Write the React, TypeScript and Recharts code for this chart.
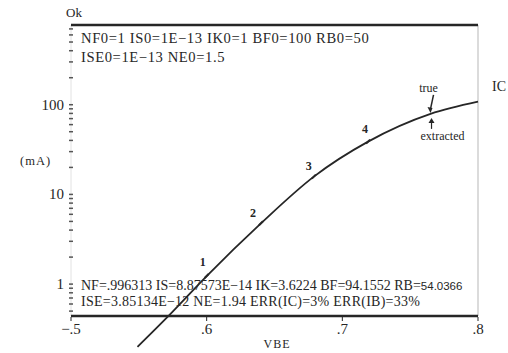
import React from 'react';
import { LineChart, Line, XAxis, YAxis, ReferenceLine, ReferenceDot, Customized } from 'recharts';

// IC vs VBE curve (mA, log scale)
const vbe = [0.549, 0.573, 0.6, 0.64, 0.679, 0.719, 0.765, 0.8];
const ic = [0.2, 0.46, 1.23, 4.76, 15.8, 38.8, 79, 108];

// numbered measurement points along the curve
const markedVbe = [0.6, 0.64, 0.679, 0.719];
const markedIc = [1.23, 4.76, 15.8, 38.8];
const markedNames = ['1', '2', '3', '4'];

// true / extracted comparison point
const compareVbe = 0.765;
const compareIc = 79;

const xTicks = [0.5, 0.6, 0.7, 0.8];
const xTickLabels = ['\u2212.5', '.6', '.7', '.8'];
const yMajorTicks = [1, 10, 100];
const yMinorTicks = [0.5, 0.6, 0.7, 0.8, 0.9, 2, 3, 4, 5, 6, 7, 8, 9, 20, 30, 40, 50, 60, 70, 80, 90, 200, 300, 400, 500, 600, 700];

const startParams = ['NF0=1 IS0=1E\u221213 IK0=1 BF0=100 RB0=50', 'ISE0=1E\u221213 NE0=1.5'];
const fitParams = ['NF=.996313 IS=8.87573E\u221214 IK=3.6224 BF=94.1552 RB=', 'ISE=3.85134E\u221212 NE=1.94 ERR(IC)=3% ERR(IB)=33%'];
const fitRb = '54.0366';

const Y_TOP = 774;
const Y_BOTTOM = 0.175;
const AXIS_FLOOR = 0.44;

const INK = '#262626';
const SERIF = '"Liberation Serif", "DejaVu Serif", serif';

const data = vbe.map((v, i) => ({ vbe: v, ic: ic[i] }));
const allYTicks = [...yMajorTicks, ...yMinorTicks].sort((a, b) => a - b);
const labelOffsets = [[-4, -10], [-8, -6], [-5, -7], [-3, -9]];

const YTick = (props: any) => {
  const { x, y, payload } = props;
  const major = yMajorTicks.includes(payload.value);
  if (payload.value < AXIS_FLOOR) return <g />;
  return (
    <g>
      <line x1={x - 2} x2={x + 2} y1={y} y2={y} stroke="#555" strokeWidth={1.5} />
      {major && (
        <text x={x - 7} y={y + 5} textAnchor="end" fontSize={15} fontFamily={SERIF} fill={INK}>
          {payload.value}
        </text>
      )}
    </g>
  );
};

const XTick = (props: any) => {
  const { x, y, index } = props;
  return (
    <g>
      <line x1={x} x2={x} y1={y - 35} y2={y - 31} stroke={INK} strokeWidth={1} />
      <text x={x} y={y - 18} textAnchor="middle" fontSize={15} fontFamily={SERIF} fill={INK}>
        {xTickLabels[index]}
      </text>
    </g>
  );
};

const PointMark = (i: number) => (props: any) => {
  const { cx, cy } = props;
  return (
    <g>
      <line x1={cx - 2} y1={cy + 2} x2={cx + 2} y2={cy - 2} stroke={INK} strokeWidth={2} />
      <text x={cx + labelOffsets[i][0]} y={cy + labelOffsets[i][1]} textAnchor="middle" fontSize={12}
        fontFamily={SERIF} fontWeight="bold" fill={INK}>
        {markedNames[i]}
      </text>
    </g>
  );
};

const CompareMark = (props: any) => {
  const { cx, cy } = props;
  return (
    <g fill={INK} stroke={INK} fontFamily={SERIF}>
      <text x={cx - 2} y={cy - 22} textAnchor="middle" fontSize={12} stroke="none">true</text>
      <line x1={cx + 3} y1={cy - 19} x2={cx} y2={cy - 5} strokeWidth={1.5} />
      <path d={`M${cx - 3},${cy - 7} L${cx},${cy - 1} L${cx + 2},${cy - 6} Z`} stroke="none" />
      <line x1={cx + 1} y1={cy + 15} x2={cx + 1} y2={cy + 7} strokeWidth={1.2} />
      <path d={`M${cx - 2},${cy + 9} L${cx + 1},${cy + 4} L${cx + 4},${cy + 9} Z`} stroke="none" />
      <text x={cx + 12} y={cy + 26} textAnchor="middle" fontSize={12} stroke="none">extracted</text>
    </g>
  );
};

const Annotations = () => (
  <g fontFamily={SERIF} fill={INK}>
    <text x={66} y={17} fontSize={13}>Ok</text>
    <text x={81} y={43} fontSize={14.6} letterSpacing={0.6}>{startParams[0]}</text>
    <text x={81} y={62} fontSize={14.6} letterSpacing={0.6}>{startParams[1]}</text>
    <text x={20} y={165} fontSize={12.5} letterSpacing={1}>(mA)</text>
    <text x={492} y={91} fontSize={14}>IC</text>
    <text x={81} y={290} fontSize={14}>
      {fitParams[0]}
      <tspan fontFamily='"Liberation Sans", sans-serif' fontSize={11.5}>{fitRb}</tspan>
    </text>
    <text x={81} y={306} fontSize={14} letterSpacing={0.25}>{fitParams[1]}</text>
    <text x={277} y={348} fontSize={12} textAnchor="middle" letterSpacing={1}>VBE</text>
  </g>
);

export default function App() {
  return (
    <div style={{ position: 'absolute', left: 0, top: 0, background: '#fff' }}>
      <LineChart width={508} height={353} data={data} margin={{ top: 24, right: 30, bottom: 0, left: 70 }}>
        <XAxis dataKey="vbe" type="number" domain={[0.5, 0.8]} ticks={xTicks} height={1}
          tickSize={0} tickMargin={0} axisLine={false} tickLine={false} tick={<XTick />} interval={0} />
        <XAxis xAxisId="top" orientation="top" type="number" domain={[0.5, 0.8]} height={1}
          tick={false} tickLine={false} axisLine={{ stroke: INK, strokeWidth: 2.5 }} />
        <YAxis type="number" scale="log" domain={[Y_BOTTOM, Y_TOP]} ticks={allYTicks} width={1}
          tickSize={0} tickMargin={0} axisLine={false} tickLine={false} tick={<YTick />} interval={0} />
        <ReferenceLine segment={[{ x: 0.5, y: AXIS_FLOOR }, { x: 0.5, y: Y_TOP }]} stroke="#e2e2e2" strokeWidth={1} />
        <ReferenceLine segment={[{ x: 0.8, y: AXIS_FLOOR }, { x: 0.8, y: Y_TOP }]} stroke="#cfcfcf" strokeWidth={1.5} />
        <ReferenceLine y={AXIS_FLOOR} stroke={INK} strokeWidth={2.5} />
        <Line dataKey="ic" type="monotone" stroke={INK} strokeWidth={1.8} dot={false} isAnimationActive={false} />
        {markedVbe.map((v, i) => (
          <ReferenceDot key={i} x={v} y={markedIc[i]} r={2} shape={PointMark(i)} />
        ))}
        <ReferenceDot x={compareVbe} y={compareIc} r={2} shape={CompareMark} />
        <Customized component={<Annotations />} />
      </LineChart>
    </div>
  );
}
